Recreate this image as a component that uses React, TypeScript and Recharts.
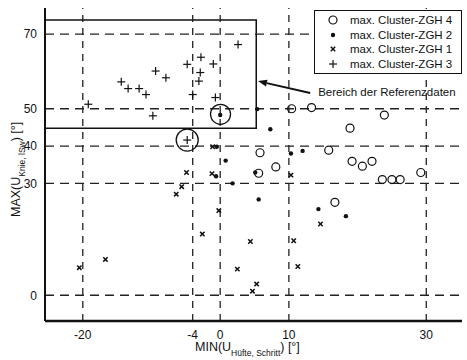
import {
  ScatterChart,
  Scatter,
  XAxis,
  YAxis,
  ReferenceLine,
  ReferenceArea,
  ReferenceDot,
} from "recharts";

// MIN(U Hüfte) / MAX(U Knie) per cluster
const zgh4X = [10.4, 13.3, 23.9, 18.9, 15.8, 5.8, 8.1, 5.6, 19.2, 20.7, 22.1, 23.6, 25.0, 26.2, 29.2, 16.7];
const zgh4Y = [50.0, 50.3, 48.3, 44.8, 38.9, 38.2, 34.4, 32.7, 35.9, 34.6, 35.9, 31.0, 31.0, 31.0, 32.9, 24.9];

const zgh2X = [5.4, 7.3, 10.3, 12.0, 5.1, 0.8, -0.6, -0.5, 1.8, 5.6, 14.3, 18.3, 0.0];
const zgh2Y = [49.9, 44.5, 38.0, 38.7, 32.9, 36.1, 31.9, 39.8, 30.0, 25.7, 23.1, 21.2, 48.3];

const zgh1X = [-20.5, -16.7, -6.4, -5.6, -4.9, -2.6, -0.2, 2.5, 4.4, 5.3, 4.7, 10.7, 11.3, 14.6, 10.3, -1.1, -1.2];
const zgh1Y = [7.4, 9.6, 27.1, 29.1, 32.9, 16.4, 22.7, 7.0, 14.4, 3.0, 1.1, 14.6, 7.7, 19.1, 32.2, 39.8, 32.6];

const zgh3X = [-19.2, -14.4, -13.4, -11.8, -10.8, -9.4, -7.9, -9.8, -4.8, -2.8, -2.9, -3.1, -4.0, -1.0, -0.7, 2.6, -4.8];
const zgh3Y = [51.2, 57.2, 55.4, 55.4, 53.8, 60.1, 58.3, 48.1, 61.9, 63.8, 59.7, 57.4, 53.8, 62.0, 53.0, 67.2, 41.6];

const xTicks = [-20, -4, 0, 10, 30];
const yTicks = [0, 30, 40, 50, 70];

// Bereich der Referenzdaten
const refBox = { x1: -25.5, x2: 5.25, y1: 44.8, y2: 73.75 };
const highlighted = [
  { x: -4.8, y: 41.6, r: 11 },
  { x: 0.05, y: 48.5, r: 10 },
];
const arrowFrom = { x: 13.1, y: 54.2 };
const arrowTo = { x: 5.5, y: 57.4 };

const legendItems = [
  { name: "max. Cluster-ZGH 4", kind: "circle" },
  { name: "max. Cluster-ZGH 2", kind: "dot" },
  { name: "max. Cluster-ZGH 1", kind: "cross" },
  { name: "max. Cluster-ZGH 3", kind: "plus" },
];

const toPoints = (xs: number[], ys: number[]) => xs.map((x, i) => ({ x, y: ys[i] }));

const INK = "#111";
const FONT = "'Liberation Sans', Arial, sans-serif";

const Marker = ({ kind, cx, cy }: { kind: string; cx: number; cy: number }) => {
  if (kind === "circle")
    return <circle cx={cx} cy={cy} r={4} fill="none" stroke={INK} strokeWidth={1.2} />;
  if (kind === "dot") return <circle cx={cx} cy={cy} r={2.2} fill={INK} />;
  if (kind === "cross")
    return (
      <g stroke={INK} strokeWidth={1.5}>
        <line x1={cx - 2.2} y1={cy - 2.2} x2={cx + 2.2} y2={cy + 2.2} />
        <line x1={cx - 2.2} y1={cy + 2.2} x2={cx + 2.2} y2={cy - 2.2} />
      </g>
    );
  return (
    <g stroke={INK} strokeWidth={1.2}>
      <line x1={cx - 4} y1={cy} x2={cx + 4} y2={cy} />
      <line x1={cx} y1={cy - 4} x2={cx} y2={cy + 4} />
    </g>
  );
};

const shapeFor = (kind: string) => (p: any) => <Marker kind={kind} cx={p.cx} cy={p.cy} />;

const LegendBox = () => (
  <div
    style={{
      position: "absolute",
      left: 314,
      top: 10,
      border: "1px solid #111",
      background: "#fff",
      width: 148,
      padding: "2px 0",
      fontFamily: FONT,
      fontSize: 11.5,
      color: INK,
      boxSizing: "border-box",
    }}
  >
    {legendItems.map((it) => (
      <div key={it.name} style={{ display: "flex", alignItems: "center", height: 14.5, whiteSpace: "nowrap" }}>
        <svg width={35} height={14} style={{ flex: "none" }}>
          <Marker kind={it.kind} cx={18} cy={7} />
        </svg>
        <span>{it.name}</span>
      </div>
    ))}
  </div>
);

const ArrowShape = (p: any) => {
  const { x1, y1, x2, y2 } = p;
  const ang = Math.atan2(y2 - y1, x2 - x1);
  const len = 9;
  const w = 3.5;
  const bx = x2 - len * Math.cos(ang);
  const by = y2 - len * Math.sin(ang);
  const px = -Math.sin(ang) * w;
  const py = Math.cos(ang) * w;
  return (
    <g>
      <line x1={x1} y1={y1} x2={bx} y2={by} stroke={INK} strokeWidth={2} />
      <polygon points={`${x2},${y2} ${bx + px},${by + py} ${bx - px},${by - py}`} fill={INK} />
      <text x={x1 + 8} y={y1 + 3} fontFamily={FONT} fontSize={11.5} fill={INK}>
        Bereich der Referenzdaten
      </text>
    </g>
  );
};

const XTitle = () => (
  <text x={195} y={351} fontFamily={FONT} fontSize={12.5} fill={INK}>
    MIN(U
    <tspan fontSize={8.5} dy={5}>Hüfte, Schritt</tspan>
    <tspan dy={-5}>) [°]</tspan>
  </text>
);

const YTitle = () => (
  <text
    transform="translate(20,217) rotate(-90)"
    fontFamily={FONT}
    fontSize={12.5}
    fill={INK}
  >
    MAX(U
    <tspan fontSize={8.5} dy={5}>Knie, lSw</tspan>
    <tspan dy={-5}>) [°]</tspan>
  </text>
);

export default function App() {
  return (
    <div style={{ position: "absolute", left: 0, top: 0, width: 467, height: 360, background: "#fff" }}>
      <ScatterChart width={467} height={360} margin={{ top: 8, right: 5, bottom: 0, left: 0 }}>
        <XAxis
          type="number"
          dataKey="x"
          domain={[-25.5, 35.2]}
          ticks={xTicks}
          tickLine={false}
          tickMargin={3}
          axisLine={{ stroke: INK, strokeWidth: 2.5 }}
          tick={{ fill: INK, fontSize: 12, fontFamily: FONT }}
          height={39}
          allowDataOverflow
        />
        <YAxis
          type="number"
          dataKey="y"
          domain={[-6.9, 77]}
          ticks={yTicks}
          tickLine={false}
          tickMargin={2}
          axisLine={{ stroke: INK, strokeWidth: 2 }}
          tick={{ fill: INK, fontSize: 12, fontFamily: FONT }}
          width={45}
          allowDataOverflow
        />
        {xTicks.map((t) => (
          <ReferenceLine key={"vx" + t} x={t} stroke="#222" strokeWidth={1.3} strokeDasharray="7 6" />
        ))}
        {yTicks.map((t) => (
          <ReferenceLine key={"hy" + t} y={t} stroke="#222" strokeWidth={1.3} strokeDasharray="9 6" />
        ))}
        <ReferenceArea
          x1={refBox.x1}
          x2={refBox.x2}
          y1={refBox.y1}
          y2={refBox.y2}
          fill="none"
          fillOpacity={0}
          stroke={INK}
          strokeWidth={1.5}
          ifOverflow="visible"
        />
        {highlighted.map((h, i) => (
          <ReferenceDot
            key={"hl" + i}
            x={h.x}
            y={h.y}
            r={h.r}
            fill="none"
            stroke={INK}
            strokeWidth={1.3}
          />
        ))}
        <ReferenceLine
          segment={[arrowFrom, arrowTo]}
          shape={ArrowShape}
          ifOverflow="visible"
        />
        <Scatter name="max. Cluster-ZGH 4" data={toPoints(zgh4X, zgh4Y)} shape={shapeFor("circle")} isAnimationActive={false} />
        <Scatter name="max. Cluster-ZGH 2" data={toPoints(zgh2X, zgh2Y)} shape={shapeFor("dot")} isAnimationActive={false} />
        <Scatter name="max. Cluster-ZGH 1" data={toPoints(zgh1X, zgh1Y)} shape={shapeFor("cross")} isAnimationActive={false} />
        <Scatter name="max. Cluster-ZGH 3" data={toPoints(zgh3X, zgh3Y)} shape={shapeFor("plus")} isAnimationActive={false} />
        <XTitle />
        <YTitle />
      </ScatterChart>
      <LegendBox />
    </div>
  );
}
